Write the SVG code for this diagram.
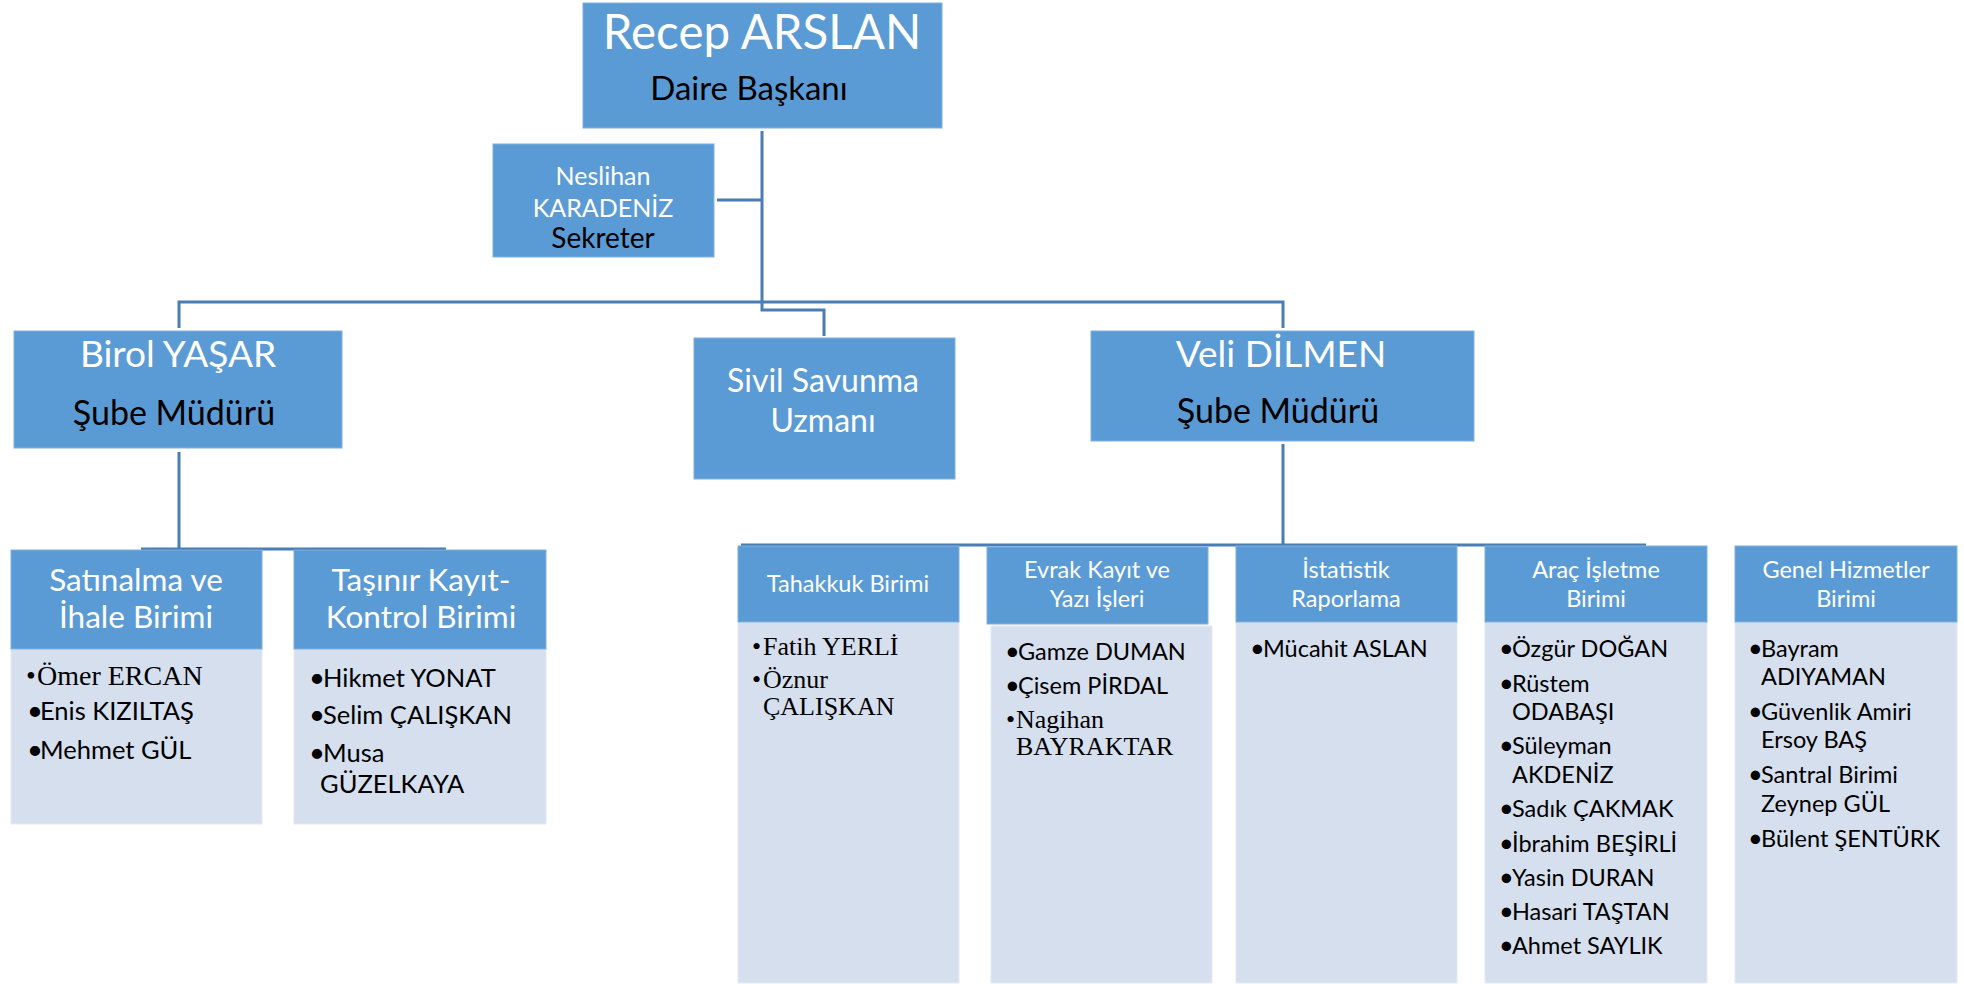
<svg xmlns="http://www.w3.org/2000/svg" width="1964" height="984" viewBox="0 0 1964 984">
<style>
.hd{fill:#5B9BD5;stroke:#7FB0DF;stroke-width:1}
.bd{fill:#D5DFEE;stroke:#E4EAF4;stroke-width:1}
.w{fill:#FFFFFF;font-family:Lato,"Noto Sans",sans-serif;text-anchor:middle}
.k{fill:#000000;font-family:Lato,"Noto Sans",sans-serif;text-anchor:middle}
.it{fill:#000000;font-family:Lato,"Noto Sans",sans-serif;font-size:23.5px}
.itl{fill:#000000;font-family:Lato,"Noto Sans",sans-serif;font-size:25.5px}
.tm{fill:#000000;font-family:"Liberation Serif","Times New Roman",serif;font-size:26px}
.tml{fill:#000000;font-family:"Liberation Serif","Times New Roman",serif;font-size:28px}
.b{font-size:1.08em}
.c{fill:none;stroke:#4A7DB5;stroke-width:3}
</style>
<rect width="1964" height="984" fill="#FFFFFF"/>
<g id="connectors">
<path class="c" d="M762 131V302"/>
<path class="c" d="M717 200H762"/>
<path class="c" d="M179 328V302H1283V328"/>
<path class="c" d="M762 302V310H824V336"/>
<path class="c" d="M179 452V549"/>
<path class="c" d="M141 549H446"/>
<path class="c" d="M1283 444V545"/>
<path class="c" d="M741 545H1646"/>
</g>
<g id="n-daire">
<rect class="hd" x="583" y="3" width="359" height="125"/>
<text class="w" x="762" y="49" font-size="47.5">Recep ARSLAN</text>
<text class="k" x="749" y="100" font-size="33">Daire Başkanı</text>
</g>
<g id="n-sekreter">
<rect class="hd" x="493" y="144" width="221" height="113"/>
<text class="w" x="603" y="185" font-size="25">Neslihan</text>
<text class="w" x="603" y="217" font-size="25">KARADENİZ</text>
<text class="k" x="603" y="248" font-size="28">Sekreter</text>
</g>
<g id="n-birol">
<rect class="hd" x="14" y="331" width="328" height="117"/>
<text class="w" x="178" y="367" font-size="37">Birol YAŞAR</text>
<text class="k" x="174" y="425" font-size="34">Şube Müdürü</text>
</g>
<g id="n-sivil">
<rect class="hd" x="694" y="338" width="261" height="141"/>
<text class="w" x="823" y="392" font-size="32">Sivil Savunma</text>
<text class="w" x="823" y="432" font-size="32">Uzmanı</text>
</g>
<g id="n-veli">
<rect class="hd" x="1091" y="331" width="383" height="110"/>
<text class="w" x="1281" y="367" font-size="37">Veli DİLMEN</text>
<text class="k" x="1278" y="423" font-size="34">Şube Müdürü</text>
</g>
<g id="n-satinalma">
<rect class="bd" x="11" y="649" width="251" height="175"/>
<rect class="hd" x="11" y="550" width="251" height="99"/>
<text class="w" x="136" y="591" font-size="31.5">Satınalma ve</text>
<text class="w" x="136" y="628" font-size="31.5">İhale Birimi</text>
<text class="tml" x="26" y="685">•<tspan x="37">Ömer ERCAN</tspan></text>
<text class="itl" x="27" y="720"><tspan class="b">•</tspan><tspan x="40">Enis KIZILTAŞ</tspan></text>
<text class="itl" x="27" y="759"><tspan class="b">•</tspan><tspan x="40">Mehmet GÜL</tspan></text>
</g>
<g id="n-tasinir">
<rect class="bd" x="294" y="649" width="252" height="175"/>
<rect class="hd" x="294" y="550" width="252" height="99"/>
<text class="w" x="421" y="591" font-size="31.5">Taşınır Kayıt-</text>
<text class="w" x="421" y="628" font-size="31.5">Kontrol Birimi</text>
<text class="itl" x="309" y="687"><tspan class="b">•</tspan><tspan x="323">Hikmet YONAT</tspan></text>
<text class="itl" x="309" y="724"><tspan class="b">•</tspan><tspan x="323">Selim ÇALIŞKAN</tspan></text>
<text class="itl" x="309" y="762"><tspan class="b">•</tspan><tspan x="323">Musa</tspan></text>
<text class="itl" x="320" y="793">GÜZELKAYA</text>
</g>
<g id="n-tahakkuk">
<rect class="bd" x="738" y="622" width="221" height="361"/>
<rect class="hd" x="738" y="546" width="221" height="76"/>
<text class="w" x="848" y="592" font-size="23.5">Tahakkuk Birimi</text>
<text class="tm" x="752" y="655">•<tspan x="763">Fatih YERLİ</tspan></text>
<text class="tm" x="752" y="688">•<tspan x="763">Öznur</tspan></text>
<text class="tm" x="763" y="715">ÇALIŞKAN</text>
</g>
<g id="n-evrak">
<rect class="bd" x="991" y="626" width="221" height="357"/>
<rect class="hd" x="987" y="547" width="221" height="77"/>
<text class="w" x="1097" y="578" font-size="23.5">Evrak Kayıt ve</text>
<text class="w" x="1097" y="607" font-size="23.5">Yazı İşleri</text>
<text class="it" x="1005" y="660"><tspan class="b">•</tspan><tspan x="1018">Gamze DUMAN</tspan></text>
<text class="it" x="1005" y="694"><tspan class="b">•</tspan><tspan x="1018">Çisem PİRDAL</tspan></text>
<text class="tm" x="1006" y="728">•<tspan x="1016">Nagihan</tspan></text>
<text class="tm" x="1016" y="755">BAYRAKTAR</text>
</g>
<g id="n-istatistik">
<rect class="bd" x="1236" y="622" width="221" height="361"/>
<rect class="hd" x="1236" y="546" width="221" height="76"/>
<text class="w" x="1346" y="578" font-size="23.5">İstatistik</text>
<text class="w" x="1346" y="607" font-size="23.5">Raporlama</text>
<text class="it" x="1250" y="657"><tspan class="b">•</tspan><tspan x="1263">Mücahit ASLAN</tspan></text>
</g>
<g id="n-arac">
<rect class="bd" x="1485" y="622" width="222" height="361"/>
<rect class="hd" x="1485" y="546" width="222" height="76"/>
<text class="w" x="1596" y="578" font-size="23.5">Araç İşletme</text>
<text class="w" x="1596" y="607" font-size="23.5">Birimi</text>
<text class="it" x="1499" y="657"><tspan class="b">•</tspan><tspan x="1512">Özgür DOĞAN</tspan></text>
<text class="it" x="1499" y="692"><tspan class="b">•</tspan><tspan x="1512">Rüstem</tspan></text>
<text class="it" x="1512" y="720">ODABAŞI</text>
<text class="it" x="1499" y="754"><tspan class="b">•</tspan><tspan x="1512">Süleyman</tspan></text>
<text class="it" x="1512" y="783">AKDENİZ</text>
<text class="it" x="1499" y="817"><tspan class="b">•</tspan><tspan x="1512">Sadık ÇAKMAK</tspan></text>
<text class="it" x="1499" y="852"><tspan class="b">•</tspan><tspan x="1512">İbrahim BEŞİRLİ</tspan></text>
<text class="it" x="1499" y="886"><tspan class="b">•</tspan><tspan x="1512">Yasin DURAN</tspan></text>
<text class="it" x="1499" y="920"><tspan class="b">•</tspan><tspan x="1512">Hasari TAŞTAN</tspan></text>
<text class="it" x="1499" y="954"><tspan class="b">•</tspan><tspan x="1512">Ahmet SAYLIK</tspan></text>
</g>
<g id="n-genel">
<rect class="bd" x="1735" y="622" width="222" height="361"/>
<rect class="hd" x="1735" y="546" width="222" height="76"/>
<text class="w" x="1846" y="578" font-size="23.5">Genel Hizmetler</text>
<text class="w" x="1846" y="607" font-size="23.5">Birimi</text>
<text class="it" x="1748" y="657"><tspan class="b">•</tspan><tspan x="1761">Bayram</tspan></text>
<text class="it" x="1761" y="685">ADIYAMAN</text>
<text class="it" x="1748" y="720"><tspan class="b">•</tspan><tspan x="1761">Güvenlik  Amiri</tspan></text>
<text class="it" x="1761" y="748">Ersoy BAŞ</text>
<text class="it" x="1748" y="783"><tspan class="b">•</tspan><tspan x="1761">Santral Birimi</tspan></text>
<text class="it" x="1761" y="812">Zeynep GÜL</text>
<text class="it" x="1748" y="847"><tspan class="b">•</tspan><tspan x="1761">Bülent ŞENTÜRK</tspan></text>
</g>
</svg>
